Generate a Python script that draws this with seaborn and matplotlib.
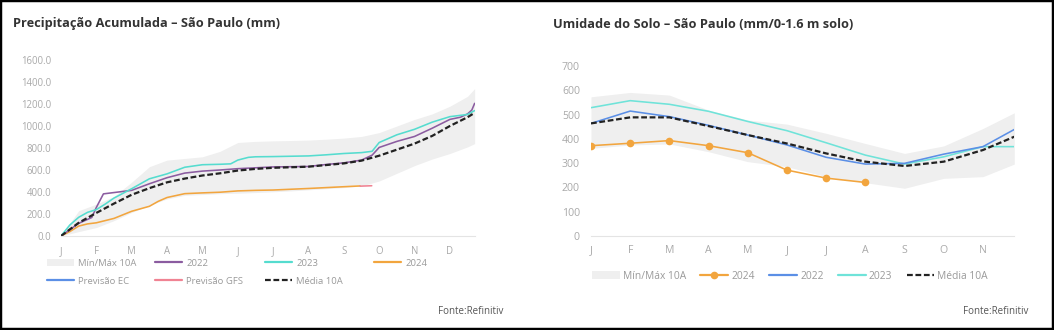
import matplotlib
matplotlib.use("Agg")
import matplotlib.pyplot as plt
import seaborn as sns
import pandas as pd
from matplotlib.lines import Line2D
from matplotlib.patches import Patch, Rectangle

# ---------------- Data: left chart (accumulated precipitation, mm) ----------------
month_labels = ["J", "F", "M", "A", "M", "J", "J", "A", "S", "O", "N", "D"]

band_x = [0, 0.5, 1, 1.5, 2, 2.5, 3, 3.5, 4, 4.5, 5, 5.5, 6, 6.5, 7, 7.5, 8, 8.5,
          9, 9.5, 10, 10.5, 11, 11.5, 11.7]
prec_max = [0, 230, 290, 360, 490, 630, 690, 705, 720, 770, 850, 860, 865, 868, 872,
            880, 890, 905, 940, 1000, 1060, 1110, 1180, 1270, 1340]
prec_min = [0, 40, 77, 140, 214, 280, 337, 370, 377, 385, 389, 395, 402, 410, 420,
            430, 440, 455, 500, 570, 640, 700, 750, 810, 840]
prec_mean = [0, 120, 210, 295, 375, 435, 488, 522, 550, 570, 595, 610, 620, 625, 630,
             645, 660, 685, 730, 785, 840, 910, 1000, 1080, 1120]

p2022_x = [0, 0.5, 0.87, 1.0, 1.2, 1.5, 2, 2.5, 3, 3.5, 4, 4.5, 5, 5.5, 6, 6.5, 7, 7.5,
           8, 8.5, 8.8, 9, 9.5, 10, 10.5, 11, 11.3, 11.5, 11.62, 11.7]
p2022 = [0, 115, 168, 260, 383, 395, 415, 475, 530, 572, 590, 600, 612, 620, 628, 630,
         632, 650, 665, 690, 735, 805, 860, 905, 980, 1060, 1080, 1110, 1145, 1206]

p2023_x = [0, 0.25, 0.5, 0.75, 1, 1.25, 1.5, 2, 2.5, 3, 3.5, 4, 4.5, 4.8, 5, 5.3, 5.5,
           6, 6.5, 7, 7.5, 8, 8.5, 8.8, 9, 9.5, 10, 10.5, 11, 11.5, 11.7]
p2023 = [0, 100, 170, 215, 240, 290, 345, 430, 520, 565, 625, 648, 652, 656, 690, 715,
         720, 722, 725, 728, 738, 750, 758, 770, 850, 920, 970, 1035, 1085, 1105, 1140]

p2024_x = [0, 0.25, 0.5, 0.75, 1, 1.25, 1.5, 2, 2.5, 2.75, 3, 3.5, 4, 4.5, 5, 5.5, 6,
           6.5, 7, 7.5, 8, 8.46]
p2024 = [0, 40, 90, 110, 120, 140, 160, 225, 270, 315, 350, 385, 392, 398, 410, 415,
         418, 425, 432, 440, 448, 455]

gfs_x = [8.46, 8.79]
gfs = [453, 457]

prec_yticks = [0, 200, 400, 600, 800, 1000, 1200, 1400, 1600]

# ---------------- Data: right chart (soil moisture, mm/0-1.6 m) ----------------
soil_labels = ["J", "F", "M", "A", "M", "J", "J", "A", "S", "O", "N"]
soil_x = [0, 1, 2, 3, 4, 5, 6, 7, 8, 9, 10, 10.8]
soil_max = [574, 592, 581, 519, 478, 461, 423, 381, 340, 371, 443, 508]
soil_min = [361, 375, 379, 347, 306, 285, 244, 219, 196, 237, 244, 296]
soil_mean = [464, 489, 489, 453, 416, 381, 340, 306, 288, 306, 354, 409]
soil_2022 = [464, 515, 492, 456, 416, 375, 324, 296, 299, 337, 368, 439]
soil_2023 = [529, 558, 543, 514, 472, 434, 384, 333, 296, 326, 368, 368]
soil_2024_x = [0, 1, 2, 3, 4, 5, 6, 7]
soil_2024 = [372, 382, 393, 372, 343, 271, 238, 220]
soil_yticks = [0, 100, 200, 300, 400, 500, 600, 700]

# ---------------- Style ----------------
sns.set_style("white")
plt.rcParams["font.family"] = ["Open Sans", "DejaVu Sans"]

C_BAND = "#efefef"
C_PURPLE = "#8b5ca0"
C_CYAN = "#55dccf"
C_ORANGE = "#f2a53e"
C_BLUE = "#5b8fe6"
C_PINK = "#f08393"
C_BLACK = "#222222"
C_TICK = "#a9a9a9"
C_LEG = "#9a9a9a"

W, H = 1054, 330
fig = plt.figure(figsize=(W / 100, H / 100), dpi=100)
fig.patch.set_facecolor("white")

ax1 = fig.add_axes([61 / W, 1 - 236 / H, (475 - 61) / W, (236 - 60) / H])
ax2 = fig.add_axes([591 / W, 1 - 235.7 / H, (1014.3 - 591) / W, (235.7 - 66.3) / H])

LW = 1.15
DASH = (0, (2.6, 1.2))

# ---- Left chart ----
ax1.fill_between(band_x, prec_min, prec_max, color=C_BAND, lw=0)
sns.lineplot(x=p2024_x, y=p2024, ax=ax1, color=C_ORANGE, lw=LW)
sns.lineplot(x=gfs_x, y=gfs, ax=ax1, color=C_PINK, lw=LW)
sns.lineplot(x=p2022_x, y=p2022, ax=ax1, color=C_PURPLE, lw=LW)
sns.lineplot(x=p2023_x, y=p2023, ax=ax1, color=C_CYAN, lw=LW)
sns.lineplot(x=band_x, y=prec_mean, ax=ax1, color=C_BLACK, lw=1.6, linestyle=DASH)

ax1.set_xlim(0, 11.71)
ax1.set_ylim(0, 1600)
ax1.set_xticks(range(len(month_labels)))
ax1.set_xticklabels(month_labels)
ax1.set_yticks(prec_yticks)
ax1.set_yticklabels([f"{v:.1f}" for v in prec_yticks])
ax1.tick_params(axis="both", length=0, labelcolor=C_TICK, labelsize=6.9)
ax1.tick_params(axis="y", pad=7)
ax1.tick_params(axis="x", pad=7)

# ---- Right chart ----
ax2.fill_between(soil_x, soil_min, soil_max, color=C_BAND, lw=0)
sns.lineplot(x=soil_x, y=soil_2023, ax=ax2, color="#6fe3d9", lw=LW)
sns.lineplot(x=soil_x, y=soil_2022, ax=ax2, color=C_BLUE, lw=LW)
sns.lineplot(x=soil_x, y=soil_mean, ax=ax2, color=C_BLACK, lw=1.6, linestyle=DASH)
sns.lineplot(x=soil_2024_x, y=soil_2024, ax=ax2, color=C_ORANGE, lw=LW,
             marker="o", markersize=5.5, markeredgewidth=0)

ax2.set_xlim(0, 10.8)
ax2.set_ylim(0, 700)
ax2.set_xticks(range(len(soil_labels)))
ax2.set_xticklabels(soil_labels)
ax2.set_yticks(soil_yticks)
ax2.tick_params(axis="both", length=0, labelcolor=C_TICK, labelsize=7.6)
ax2.tick_params(axis="y", pad=8)
ax2.tick_params(axis="x", pad=7)

for ax in (ax1, ax2):
    ax.set_xlabel("")
    ax.set_ylabel("")
    ax.set_facecolor("none")
    for s in ("left", "right", "top"):
        ax.spines[s].set_visible(False)
    ax.spines["bottom"].set_color("#e4e4e4")
    ax.spines["bottom"].set_linewidth(0.8)
    ax.grid(False)

# ---- Legends ----
h_band = Patch(facecolor=C_BAND, edgecolor="none", label="Mín/Máx 10A")
h22 = Line2D([], [], color=C_PURPLE, lw=1.6, label="2022")
h23 = Line2D([], [], color=C_CYAN, lw=1.6, label="2023")
h24 = Line2D([], [], color=C_ORANGE, lw=1.6, label="2024")
hec = Line2D([], [], color=C_BLUE, lw=1.6, label="Previsão EC")
hgfs = Line2D([], [], color=C_PINK, lw=1.6, label="Previsão GFS")
hmean = Line2D([], [], color=C_BLACK, lw=1.6, linestyle=DASH, label="Média 10A")

columns = [([h_band, hec], 47), ([h22, hgfs], 155), ([h23, hmean], 265), ([h24], 374)]
for handles, xpix in columns:
    fig.legend(handles=handles, loc="upper left",
               bbox_to_anchor=(xpix / W, 1 - 258.5 / H), frameon=False,
               fontsize=6.8, handlelength=2.9, handletextpad=0.4,
               labelspacing=1.0, borderpad=0, borderaxespad=0,
               labelcolor=C_LEG, handleheight=0.8)

sh_band = Patch(facecolor=C_BAND, edgecolor="none", label="Mín/Máx 10A")
sh24 = Line2D([], [], color=C_ORANGE, lw=1.6, marker="o", markersize=5.5,
              markeredgewidth=0, label="2024")
sh22 = Line2D([], [], color=C_BLUE, lw=1.6, label="2022")
sh23 = Line2D([], [], color="#6fe3d9", lw=1.6, label="2023")
shm = Line2D([], [], color=C_BLACK, lw=1.6, linestyle=DASH, label="Média 10A")
fig.legend(handles=[sh_band, sh24, sh22, sh23, shm], loc="upper left",
           bbox_to_anchor=(592 / W, 1 - 271 / H), ncol=5, frameon=False,
           fontsize=7.4, handlelength=2.7, handletextpad=0.3, columnspacing=1.4,
           borderpad=0, borderaxespad=0, labelcolor=C_LEG, handleheight=0.8)

# ---- Titles and source ----
fig.text(13 / W, 1 - 24 / H, "Precipitação Acumulada – São Paulo (mm)",
         fontsize=9.15, fontweight="bold", color="#333333", va="center", ha="left")
fig.text(553 / W, 1 - 24 / H, "Umidade do Solo – São Paulo (mm/0-1.6 m solo)",
         fontsize=9.15, fontweight="bold", color="#333333", va="center", ha="left")
fig.text(503 / W, 1 - 311 / H, "Fonte:Refinitiv", fontsize=7, color="#555555",
         va="center", ha="right")
fig.text(1028 / W, 1 - 311 / H, "Fonte:Refinitiv", fontsize=7, color="#555555",
         va="center", ha="right")

# ---- Outer frame ----
fig.patches.append(Rectangle((0, 0), 1, 1, transform=fig.transFigure, fill=False,
                             edgecolor="black", linewidth=3.2, zorder=10))

fig.savefig("out.png", dpi=100, facecolor="white")
